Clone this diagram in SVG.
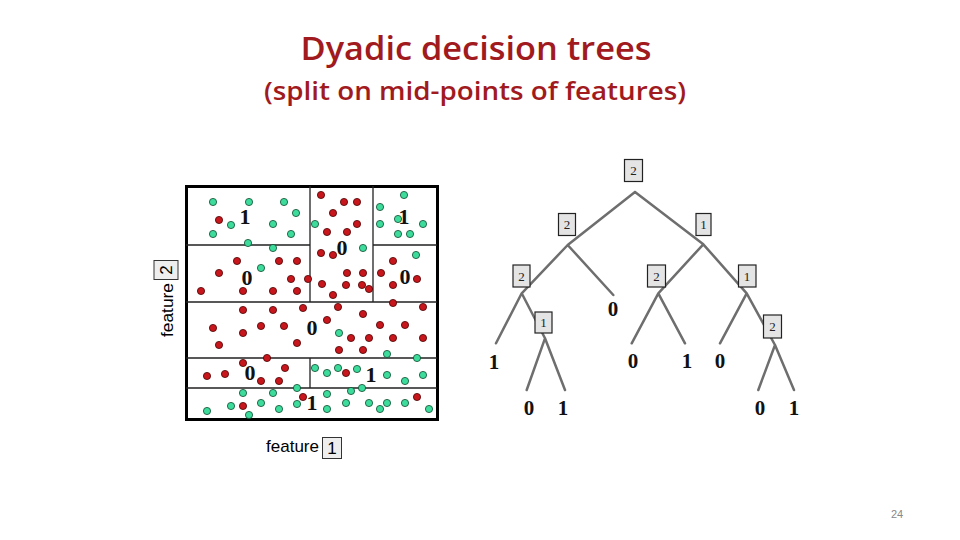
<svg xmlns="http://www.w3.org/2000/svg" width="960" height="540" viewBox="0 0 960 540">
<style>
.title{font-family:"Open Sans","Liberation Sans",sans-serif;font-weight:600;fill:#a01a1e;text-anchor:middle}
.lab{font-family:"Liberation Sans",sans-serif;font-size:17px;fill:#000}
.r{fill:#c8161d;stroke:#4a0000;stroke-width:0.8}
.g{fill:#3ddc9c;stroke:#0c4a2c;stroke-width:0.8}
.grid{stroke:#222;stroke-width:1.3;fill:none}
.pl{font-family:"Liberation Serif",serif;font-weight:bold;font-size:22px;text-anchor:middle;fill:#111}
.edge{stroke:#6e6e6e;stroke-width:2.5;fill:none;stroke-linecap:round}
.box{fill:#e4e4e4;stroke:#222;stroke-width:1.2}
.bl{font-family:"Liberation Serif",serif;font-size:13px;text-anchor:middle;fill:#222}
.leaf{font-family:"Liberation Serif",serif;font-weight:bold;font-size:21px;text-anchor:middle;fill:#111}
.fb{fill:#eeeeee;stroke:#333;stroke-width:1}
</style>

<text class="title" x="476" y="60" font-size="32" textLength="351" lengthAdjust="spacingAndGlyphs">Dyadic decision trees</text>
<text class="title" x="475" y="100" font-size="26" textLength="422" lengthAdjust="spacingAndGlyphs">(split on mid-points of features)</text>

<g id="plot">
<rect x="186.5" y="186.5" width="251" height="233" fill="#fff" stroke="#000" stroke-width="3"/>
<path class="grid" d="M186 245H310M373 245H437M310 186V302M373 186V302M186 302H437M186 358H437M310 358V388M186 388H437"/>
<g id="dots">
<circle class="r" cx="219" cy="220" r="3.6"/>
<circle class="g" cx="213" cy="202" r="3.6"/><circle class="g" cx="249" cy="202" r="3.6"/><circle class="g" cx="284" cy="202" r="3.6"/><circle class="g" cx="296" cy="213" r="3.6"/><circle class="g" cx="231" cy="225" r="3.6"/><circle class="g" cx="273" cy="224" r="3.6"/><circle class="g" cx="213" cy="234" r="3.6"/><circle class="g" cx="291" cy="234" r="3.6"/><circle class="g" cx="248" cy="243" r="3.6"/><circle class="g" cx="273" cy="248" r="3.6"/>
<circle class="r" cx="237" cy="261" r="3.6"/><circle class="r" cx="279" cy="261" r="3.6"/><circle class="r" cx="297" cy="261" r="3.6"/><circle class="r" cx="219" cy="273" r="3.6"/><circle class="r" cx="291" cy="279" r="3.6"/><circle class="r" cx="308" cy="279" r="3.6"/><circle class="r" cx="201" cy="291" r="3.6"/><circle class="r" cx="243" cy="291" r="3.6"/><circle class="r" cx="273" cy="291" r="3.6"/><circle class="r" cx="297" cy="291" r="3.6"/>
<circle class="g" cx="261" cy="268" r="3.6"/>
<circle class="r" cx="321" cy="195" r="3.6"/><circle class="r" cx="344" cy="202" r="3.6"/><circle class="r" cx="357" cy="202" r="3.6"/><circle class="r" cx="333" cy="213" r="3.6"/><circle class="r" cx="357" cy="224" r="3.6"/><circle class="r" cx="327" cy="232" r="3.6"/><circle class="r" cx="347" cy="232" r="3.6"/><circle class="r" cx="321" cy="253" r="3.6"/><circle class="r" cx="333" cy="255" r="3.6"/><circle class="r" cx="347" cy="273" r="3.6"/><circle class="r" cx="363" cy="273" r="3.6"/><circle class="r" cx="322" cy="284" r="3.6"/><circle class="r" cx="346" cy="285" r="3.6"/><circle class="r" cx="362" cy="285" r="3.6"/><circle class="r" cx="333" cy="295" r="3.6"/><circle class="r" cx="369" cy="289" r="3.6"/>
<circle class="g" cx="315" cy="224" r="3.6"/><circle class="g" cx="363" cy="248" r="3.6"/>
<circle class="g" cx="404" cy="195" r="3.6"/><circle class="g" cx="380" cy="207" r="3.6"/><circle class="g" cx="398" cy="219" r="3.6"/><circle class="g" cx="380" cy="224" r="3.6"/><circle class="g" cx="423" cy="224" r="3.6"/><circle class="g" cx="398" cy="234" r="3.6"/><circle class="g" cx="410" cy="234" r="3.6"/>
<circle class="g" cx="416" cy="255" r="3.6"/>
<circle class="r" cx="393" cy="261" r="3.6"/><circle class="r" cx="417" cy="279" r="3.6"/><circle class="r" cx="381" cy="273" r="3.6"/><circle class="r" cx="393" cy="285" r="3.6"/>
<circle class="r" cx="243" cy="310" r="3.6"/><circle class="r" cx="273" cy="310" r="3.6"/><circle class="r" cx="303" cy="308" r="3.6"/><circle class="r" cx="213" cy="328" r="3.6"/><circle class="r" cx="261" cy="326" r="3.6"/><circle class="r" cx="284" cy="326" r="3.6"/><circle class="r" cx="243" cy="333" r="3.6"/><circle class="r" cx="219" cy="345" r="3.6"/><circle class="r" cx="297" cy="343" r="3.6"/>
<circle class="r" cx="338" cy="307" r="3.6"/><circle class="r" cx="393" cy="303" r="3.6"/><circle class="r" cx="423" cy="307" r="3.6"/><circle class="r" cx="363" cy="314" r="3.6"/><circle class="r" cx="327" cy="320" r="3.6"/><circle class="r" cx="380" cy="325" r="3.6"/><circle class="r" cx="405" cy="325" r="3.6"/><circle class="r" cx="351" cy="338" r="3.6"/><circle class="r" cx="369" cy="338" r="3.6"/><circle class="r" cx="393" cy="338" r="3.6"/><circle class="r" cx="423" cy="338" r="3.6"/><circle class="r" cx="339" cy="350" r="3.6"/><circle class="r" cx="363" cy="350" r="3.6"/>
<circle class="g" cx="339" cy="333" r="3.6"/><circle class="g" cx="387" cy="354" r="3.6"/><circle class="g" cx="417" cy="358" r="3.6"/>
<circle class="r" cx="267" cy="358" r="3.6"/><circle class="r" cx="243" cy="363" r="3.6"/><circle class="r" cx="285" cy="368" r="3.6"/><circle class="r" cx="207" cy="376" r="3.6"/><circle class="r" cx="225" cy="374" r="3.6"/><circle class="r" cx="261" cy="381" r="3.6"/><circle class="r" cx="279" cy="381" r="3.6"/>
<circle class="g" cx="315" cy="368" r="3.6"/><circle class="g" cx="327" cy="373" r="3.6"/><circle class="g" cx="338" cy="368" r="3.6"/><circle class="g" cx="357" cy="369" r="3.6"/><circle class="g" cx="387" cy="375" r="3.6"/><circle class="g" cx="405" cy="381" r="3.6"/><circle class="g" cx="423" cy="375" r="3.6"/>
<circle class="r" cx="346" cy="373" r="3.6"/>
<circle class="g" cx="297" cy="388" r="3.6"/><circle class="g" cx="362" cy="388" r="3.6"/>
<circle class="g" cx="243" cy="393" r="3.6"/><circle class="g" cx="273" cy="393" r="3.6"/><circle class="g" cx="231" cy="406" r="3.6"/><circle class="g" cx="261" cy="403" r="3.6"/><circle class="g" cx="297" cy="404" r="3.6"/><circle class="g" cx="207" cy="411" r="3.6"/><circle class="g" cx="279" cy="409" r="3.6"/><circle class="g" cx="249" cy="415" r="3.6"/><circle class="g" cx="351" cy="391" r="3.6"/><circle class="g" cx="327" cy="394" r="3.6"/><circle class="g" cx="346" cy="403" r="3.6"/><circle class="g" cx="369" cy="403" r="3.6"/><circle class="g" cx="387" cy="403" r="3.6"/><circle class="g" cx="380" cy="409" r="3.6"/><circle class="g" cx="405" cy="403" r="3.6"/><circle class="g" cx="327" cy="409" r="3.6"/><circle class="g" cx="429" cy="409" r="3.6"/>
<circle class="r" cx="303" cy="397" r="3.6"/><circle class="r" cx="243" cy="406" r="3.6"/><circle class="r" cx="417" cy="397" r="3.6"/>
</g>
<text class="pl" x="245" y="224">1</text>
<text class="pl" x="247" y="285">0</text>
<text class="pl" x="342" y="255">0</text>
<text class="pl" x="404" y="224">1</text>
<text class="pl" x="405" y="284">0</text>
<text class="pl" x="312" y="335">0</text>
<text class="pl" x="250" y="380">0</text>
<text class="pl" x="371" y="382">1</text>
<text class="pl" x="312" y="410">1</text>
</g>

<g id="axis-labels">
<text class="lab" x="266" y="452" textLength="53" lengthAdjust="spacingAndGlyphs">feature</text>
<rect class="fb" x="322.5" y="437.5" width="19" height="21"/>
<text class="lab" x="332" y="454" text-anchor="middle">1</text>
<g transform="translate(173,337) rotate(-90)">
<text class="lab" x="0" y="0" textLength="54" lengthAdjust="spacingAndGlyphs">feature</text>
<rect class="fb" x="57.5" y="-19" width="19" height="24"/>
<text class="lab" x="67" y="-1" text-anchor="middle">2</text>
</g>
</g>

<g id="connectors">
<path class="edge" d="M635 192L567.7 245M635 192L703.3 244.3M567.7 245L521.7 293.3M567.7 245L613.3 295M703.3 244.3L658.3 293.3M703.3 244.3L746.7 293.3M521.7 293.3L496 343.3M521.7 293.3L545 338.3M545 338.3L526.7 390M545 338.3L565 390M658.3 293.3L631.7 343.3M658.3 293.3L685 343.3M746.7 293.3L720 343.3M746.7 293.3L775 345M775 345L758.3 390M775 345L794 390"/>
</g>

<g id="n-root"><rect class="box" x="624.5" y="159.5" width="18" height="22"/><text class="bl" x="633.5" y="175">2</text></g>
<g id="n-l"><rect class="box" x="558.5" y="213.5" width="17" height="22"/><text class="bl" x="567" y="229">2</text></g>
<g id="n-r"><rect class="box" x="696" y="213.5" width="15" height="22"/><text class="bl" x="703.5" y="229">1</text></g>
<g id="n-ll"><rect class="box" x="513" y="265" width="17" height="22"/><text class="bl" x="521.5" y="280.5">2</text></g>
<g id="n-rl"><rect class="box" x="647.5" y="265" width="18" height="22"/><text class="bl" x="656.5" y="280.5">2</text></g>
<g id="n-rr"><rect class="box" x="738.5" y="265" width="17.5" height="22"/><text class="bl" x="747" y="280.5">1</text></g>
<g id="n-llr"><rect class="box" x="535" y="312" width="17" height="21"/><text class="bl" x="543.5" y="327" font-size="11">1</text></g>
<g id="n-rrr"><rect class="box" x="763.5" y="315" width="18" height="23"/><text class="bl" x="772.5" y="330.5" font-size="11">2</text></g>

<g id="leaves">
<text class="leaf" x="494" y="369">1</text>
<text class="leaf" x="529" y="415">0</text>
<text class="leaf" x="563" y="415">1</text>
<text class="leaf" x="613" y="316">0</text>
<text class="leaf" x="633" y="368">0</text>
<text class="leaf" x="687" y="368">1</text>
<text class="leaf" x="720" y="368">0</text>
<text class="leaf" x="760" y="415">0</text>
<text class="leaf" x="794" y="415">1</text>
</g>

<text x="897" y="518" font-family="Liberation Sans,sans-serif" font-size="11" fill="#888" text-anchor="middle">24</text>
</svg>
